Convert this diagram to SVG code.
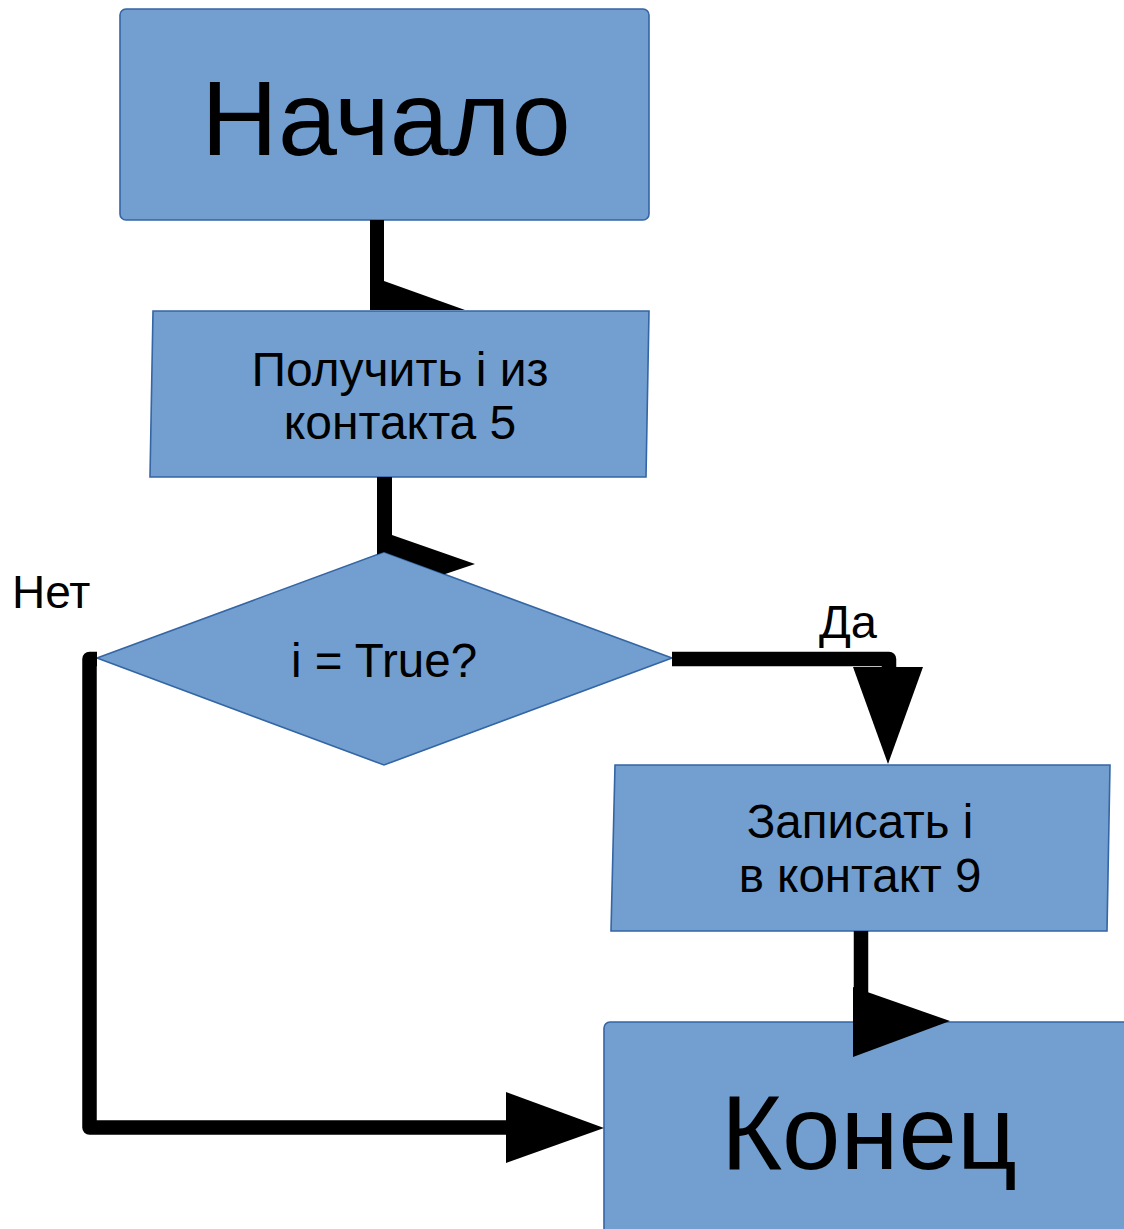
<svg xmlns="http://www.w3.org/2000/svg" width="1124" height="1229" viewBox="0 0 1124 1229">
<style>
.shape{fill:#729fcf;stroke:#3465a4;stroke-width:1.6}
.t{font-family:"Liberation Sans",Arial,sans-serif;fill:#000;text-anchor:middle}
.lbl{font-family:"Liberation Sans",Arial,sans-serif;fill:#000}
.line{fill:none;stroke:#000;stroke-width:14.5;stroke-linejoin:round;stroke-linecap:butt}
.head{fill:#000;stroke:none}
</style>
<rect width="1124" height="1229" fill="#fff"/>
<g id="node-start">
<rect class="shape" x="120" y="9" width="529" height="211" rx="6"/>
<text class="t" x="386" y="155" font-size="106">Начало</text>
</g>
<g id="node-input">
<polygon class="shape" points="153,311 649,311 646,477 150,477"/>
<text class="t" x="400" y="386" font-size="48">Получить i из</text>
<text class="t" x="400" y="439" font-size="48">контакта 5</text>
</g>
<g id="node-decision">
<polygon class="shape" points="384,552 672,658 384,765 97,658"/>
<text class="t" x="384" y="677" font-size="47.5">i = True?</text>
</g>
<g id="node-output">
<polygon class="shape" points="615,765 1110,765 1107,931 611,931"/>
<text class="t" x="860" y="838" font-size="47.5">Записать i</text>
<text class="t" x="860" y="892" font-size="47.5">в контакт 9</text>
</g>
<g id="node-end">
<rect class="shape" x="604" y="1022" width="530" height="220" rx="6"/>
<text class="t" x="869" y="1169" font-size="105">Конец</text>
</g>
<g id="connectors">
<polygon class="head" points="370,220 384,220 384,281 465,310 370,310"/>
<polygon class="head" points="377,477 392,477 392,535 475,564 444.5,574.3 384,552 377,554.6"/>
<path class="line" d="M672,659 H889 V700"/>
<polygon class="head" points="853,667 923,667 888,764"/>
<path class="line" d="M861,931 V1000"/>
<polygon class="head" points="853,987 950,1021 853,1057"/>
<path class="line" d="M97,659 H89.5 V1127.5 H512"/>
<polygon class="head" points="506,1092 604,1128 506,1163"/>
</g>
<g id="labels">
<text class="lbl" x="12" y="608" font-size="46">Нет</text>
<text class="lbl" x="819" y="638" font-size="47">Да</text>
</g>
</svg>
